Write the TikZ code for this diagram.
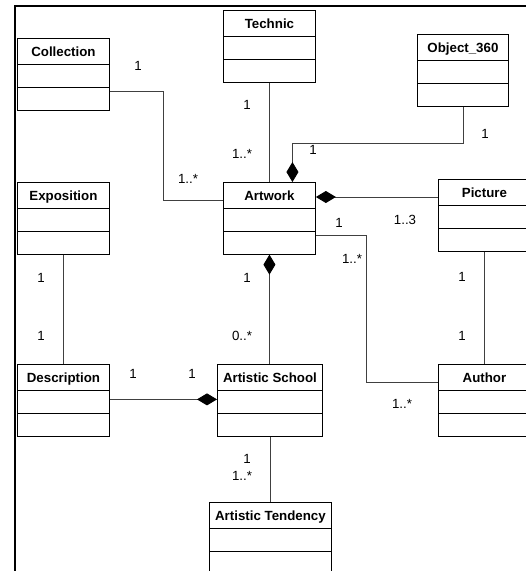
\documentclass[tikz,border=0pt]{standalone}
\usepackage{fontspec}
\setmainfont{Liberation Sans}
\usetikzlibrary{shapes.multipart,arrows.meta}

\newcommand{\classname}[1]{\rule[-7.5pt]{0pt}{25pt}\textbf{#1}}
\newcommand{\classrow}{\rule{0pt}{22pt}}

\begin{document}
\begin{tikzpicture}[x=1pt, y=-1pt,
  font=\fontsize{13.3}{15}\selectfont,
  umlclass/.style={draw, line width=0.9pt, rectangle split, rectangle split parts=3,
    inner sep=0pt, minimum width=92pt, anchor=north west, fill=white},
  assoc/.style={draw=black!75, line width=0.9pt},
  compo/.style={assoc, -{Diamond[length=20pt, width=12pt, color=black]}},
  mult/.style={inner sep=0pt}]
  \useasboundingbox (0,0) rectangle (526,571);
  \clip (0,0) rectangle (526,571);
  \draw[line width=2pt] (15,572) -- (15,6) -- (527,6);

  \node[umlclass] (collection) at (17,38) {\classname{Collection}\nodepart{two}\classrow\nodepart{three}\classrow};
  \node[umlclass] (technic) at (223,10) {\classname{Technic}\nodepart{two}\classrow\nodepart{three}\classrow};
  \node[umlclass, minimum width=91pt] (object) at (417,34) {\classname{Object\_360}\nodepart{two}\classrow\nodepart{three}\classrow};
  \node[umlclass] (exposition) at (17,182) {\classname{Exposition}\nodepart{two}\classrow\nodepart{three}\classrow};
  \node[umlclass] (artwork) at (223,182) {\classname{Artwork}\nodepart{two}\classrow\nodepart{three}\classrow};
  \node[umlclass] (picture) at (438,179) {\classname{Picture}\nodepart{two}\classrow\nodepart{three}\classrow};
  \node[umlclass] (description) at (17,364) {\classname{Description}\nodepart{two}\classrow\nodepart{three}\classrow};
  \node[umlclass, minimum width=105pt] (school) at (217,364) {\classname{Artistic School}\nodepart{two}\classrow\nodepart{three}\classrow};
  \node[umlclass] (author) at (438,364) {\classname{Author}\nodepart{two}\classrow\nodepart{three}\classrow};
  \node[umlclass, minimum width=122pt] (tendency) at (209,502) {\classname{Artistic Tendency}\nodepart{two}\classrow\nodepart{three}\classrow};

  \draw[assoc] ([yshift=-4pt]collection.two split east) -- ++(54,0) |- ([yshift=8pt]artwork.text split west);
  \draw[assoc] (technic.south) -- (artwork.north);
  \draw[compo] (object.south) -- ++(0,37) -| ([xshift=23pt]artwork.north);
  \draw[compo] ([yshift=-18pt]picture.north west) coordinate (pa) -- (pa -| artwork.east);
  \draw[assoc] ([yshift=-4pt]artwork.two split east) -- ++(51,0) |- ([yshift=-18pt]author.north west);
  \draw[compo] (artwork.south |- school.north) -- (artwork.south);
  \draw[assoc] (picture.south) -- (author.north);
  \draw[assoc] (exposition.south) -- (description.north);
  \draw[compo] ([yshift=-9pt]description.text split east) coordinate (ds) -- (ds -| school.west);
  \draw[assoc] (school.south) -- (school.south |- tendency.north);

  \foreach \x/\y/\t [count=\i] in {138/66/1, 188/179/1..*, 247/105/1, 242/154/1..*,
      485/134/1, 313/150/1, 405/220/1..3, 339/223/1, 352/259/1..*, 402/404/1..*,
      462/277/1, 462/336/1, 41/278/1, 41/336/1, 247/278/1, 242/336/0..*,
      133/374/1, 192/374/1, 247/459/1, 242/476/1..*}
    \node[mult] (m\i) at (\x,\y) {\t};
\end{tikzpicture}
\end{document}
